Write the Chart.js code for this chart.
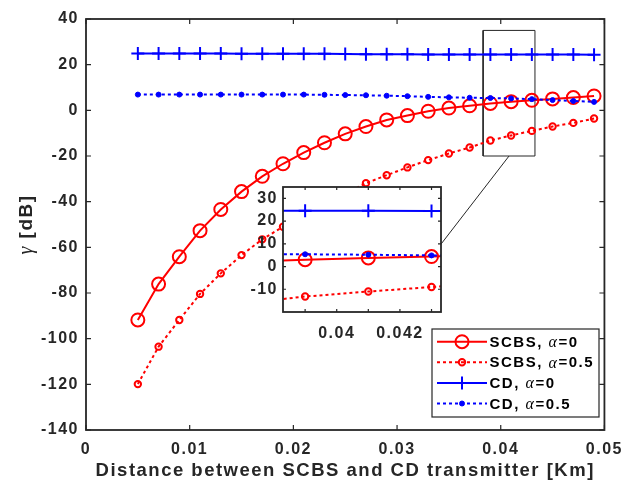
<!DOCTYPE html>
<html>
<head>
<meta charset="utf-8">
<script src="https://cdn.jsdelivr.net/npm/chart.js@4.4.0/dist/chart.umd.min.js"></script>
<style>
  html, body { margin: 0; padding: 0; background: #fff; }
  #wrap { position: relative; width: 630px; height: 484px; }
  #main { position: absolute; left: 0; top: 0; }
  #inset { position: absolute; left: 230px; top: 170px; }
</style>
</head>
<body>
<div id="wrap">
  <canvas id="main" width="630" height="484"></canvas>
  <canvas id="inset" width="220" height="180"></canvas>
</div>
<script>
// distance between SCBS and CD transmitter [Km]
const distance = [0.005, 0.007, 0.009, 0.011, 0.013, 0.015, 0.017, 0.019, 0.021, 0.023, 0.025, 0.027,
                  0.029, 0.031, 0.033, 0.035, 0.037, 0.039, 0.041, 0.043, 0.045, 0.047, 0.049];

// gamma [dB]
const scbsA0  = [-91.8, -76.1, -64.1, -52.7, -43.4, -35.6, -28.9, -23.4, -18.5, -14.2, -10.3, -7.1,
                 -4.2, -2.3, -0.4, 1.0, 2.0, 3.0, 3.8, 4.4, 5.0, 5.6, 6.3];
const scbsA05 = [-119.9, -103.5, -91.8, -80.4, -71.4, -63.4, -56.5, -51.0, -46.0, -41.2, -36.5, -31.9,
                 -28.4, -25.0, -21.8, -18.9, -16.3, -13.2, -11.0, -9.0, -7.1, -5.5, -3.6];
const cdA0    = [24.9, 24.9, 24.9, 24.9, 24.9, 24.8, 24.8, 24.8, 24.8, 24.8, 24.7, 24.6,
                 24.6, 24.6, 24.5, 24.5, 24.5, 24.5, 24.5, 24.4, 24.4, 24.4, 24.3];
const cdA05   = [6.9, 6.9, 6.9, 6.9, 6.9, 6.9, 6.9, 6.9, 6.9, 6.8, 6.7, 6.6,
                 6.4, 6.2, 5.9, 5.7, 5.5, 5.4, 5.2, 4.9, 4.5, 4.1, 3.7];

const labels = ['SCBS, \u03b1=0', 'SCBS, \u03b1=0.5', 'CD, \u03b1=0', 'CD, \u03b1=0.5'];

const xTicks = [0, 0.01, 0.02, 0.03, 0.04, 0.05];
const yTicks = [-140, -120, -100, -80, -60, -40, -20, 0, 20, 40];

// zoomed window
const zoomX = [0.0383, 0.0433];
const zoomY = [-20, 35];
const insetXTicks = [0.039, 0.04, 0.041, 0.042, 0.043];
const insetXLabels = [0.04, 0.042];
const insetYTicks = [-10, 0, 10, 20, 30];
// connector from zoom box to inset
const connX = [0.0408, 0.0340];
const connY = [-20, -60];

const AX = '#262626';
const SANS = '"Liberation Sans", Arial, sans-serif';
const SERIF = '"Liberation Serif", "Times New Roman", serif';

const pts = (ys) => distance.map((x, i) => ({ x: x, y: ys[i] }));
const fmt = (v) => String(Number(v.toFixed(4)));

function seriesSets() {
  return [
    { label: labels[3], data: pts(cdA05), borderColor: '#0000ff', borderWidth: 2, borderDash: [3, 3],
      pointStyle: 'circle', pointRadius: 2.5, pointBackgroundColor: '#0000ff', pointBorderColor: '#0000ff', pointBorderWidth: 1 },
    { label: labels[2], data: pts(cdA0), borderColor: '#0000ff', borderWidth: 2,
      pointStyle: 'cross', pointRadius: 6.5, pointBorderColor: '#0000ff', pointBorderWidth: 2 },
    { label: labels[1], data: pts(scbsA05), borderColor: '#ff0000', borderWidth: 2, borderDash: [3, 3],
      pointStyle: 'circle', pointRadius: 3.2, pointBackgroundColor: 'rgba(0,0,0,0)', pointBorderColor: '#ff0000', pointBorderWidth: 2 },
    { label: labels[0], data: pts(scbsA0), borderColor: '#ff0000', borderWidth: 2,
      pointStyle: 'circle', pointRadius: 6.5, pointBackgroundColor: 'rgba(0,0,0,0)', pointBorderColor: '#ff0000', pointBorderWidth: 2 }
  ];
}

function drawFrame(chart, tickLen) {
  const { ctx, chartArea: a, scales } = chart;
  ctx.save();
  ctx.strokeStyle = AX;
  ctx.lineWidth = 1.8;
  ctx.strokeRect(a.left, a.top, a.right - a.left, a.bottom - a.top);
  ctx.lineWidth = 1.2;
  ctx.beginPath();
  scales.x.ticks.forEach(t => {
    const px = scales.x.getPixelForValue(t.value);
    ctx.moveTo(px, a.bottom); ctx.lineTo(px, a.bottom - tickLen);
    ctx.moveTo(px, a.top); ctx.lineTo(px, a.top + tickLen);
  });
  scales.y.ticks.forEach(t => {
    const py = scales.y.getPixelForValue(t.value);
    ctx.moveTo(a.left, py); ctx.lineTo(a.left + tickLen, py);
    ctx.moveTo(a.right, py); ctx.lineTo(a.right - tickLen, py);
  });
  ctx.stroke();
  ctx.restore();
}

function drawMarker(ctx, ds, x, y) {
  ctx.save();
  ctx.setLineDash([]);
  ctx.strokeStyle = ds.pointBorderColor;
  ctx.lineWidth = ds.pointBorderWidth;
  ctx.beginPath();
  if (ds.pointStyle === 'cross') {
    ctx.moveTo(x - ds.pointRadius, y); ctx.lineTo(x + ds.pointRadius, y);
    ctx.moveTo(x, y - ds.pointRadius); ctx.lineTo(x, y + ds.pointRadius);
    ctx.stroke();
  } else {
    ctx.arc(x, y, ds.pointRadius, 0, Math.PI * 2);
    ctx.fillStyle = ds.pointBackgroundColor;
    ctx.fill();
    ctx.stroke();
  }
  ctx.restore();
}

// text with an italic serif alpha / gamma
function richText(ctx, parts, x, y) {
  let tx = x;
  parts.forEach(p => {
    ctx.font = p.font;
    ctx.fillText(p.text, tx, y);
    tx += ctx.measureText(p.text).width;
  });
}

const legendBox = { left: 432, top: 329, width: 167, height: 88, rowH: 20.6 };

function drawLegend(chart) {
  const ctx = chart.ctx;
  const sets = chart.data.datasets;
  const order = [3, 2, 1, 0];
  const b = legendBox;
  ctx.save();
  ctx.fillStyle = '#fff';
  ctx.fillRect(b.left, b.top, b.width, b.height);
  ctx.strokeStyle = AX;
  ctx.lineWidth = 1.2;
  ctx.strokeRect(b.left, b.top, b.width, b.height);
  order.forEach((idx, r) => {
    const ds = sets[idx];
    const y = b.top + 12.7 + r * b.rowH;
    const x0 = b.left + 5, x1 = b.left + 55;
    ctx.strokeStyle = ds.borderColor;
    ctx.lineWidth = ds.borderWidth;
    ctx.setLineDash(ds.borderDash || []);
    ctx.beginPath(); ctx.moveTo(x0, y); ctx.lineTo(x1, y); ctx.stroke();
    drawMarker(ctx, ds, (x0 + x1) / 2, y);
    const parts = ds.label.split('\u03b1');
    ctx.fillStyle = '#000';
    ctx.textBaseline = 'middle';
    ctx.textAlign = 'left';
    richText(ctx, [
      { text: parts[0], font: 'bold 15px ' + SANS },
      { text: '\u03b1', font: 'italic 16px ' + SERIF },
      { text: parts[1], font: 'bold 15px ' + SANS }
    ], b.left + 57.5, y + 1);
  });
  ctx.restore();
}

function drawYTitle(chart) {
  const { ctx, chartArea: a } = chart;
  const parts = [
    { text: '\u03b3', font: 'italic 20px ' + SERIF },
    { text: ' [dB]', font: 'bold 19px ' + SANS }
  ];
  ctx.save();
  let w = 0;
  parts.forEach(p => { ctx.font = p.font; w += ctx.measureText(p.text).width; });
  ctx.translate(27, (a.top + a.bottom) / 2);
  ctx.rotate(-Math.PI / 2);
  ctx.fillStyle = AX;
  ctx.textBaseline = 'middle';
  ctx.textAlign = 'left';
  richText(ctx, parts, -w / 2, 0);
  ctx.restore();
}

const spacing = {
  id: 'spacing',
  beforeDraw(chart) { chart.ctx.letterSpacing = '1.5px'; }
};

const mainPlugin = {
  id: 'mainFrame',
  afterDraw(chart) {
    drawFrame(chart, 5);
    drawLegend(chart);
    drawYTitle(chart);
  }
};

const mainSets = seriesSets().concat([
  { label: 'zoom', data: [
      { x: zoomX[0], y: zoomY[0] }, { x: zoomX[1], y: zoomY[0] }, { x: zoomX[1], y: zoomY[1] },
      { x: zoomX[0], y: zoomY[1] }, { x: zoomX[0], y: zoomY[0] }],
    borderColor: AX, borderWidth: 1, pointRadius: 0 },
  { label: 'connector', data: [{ x: connX[0], y: connY[0] }, { x: connX[1], y: connY[1] }],
    borderColor: AX, borderWidth: 1, pointRadius: 0 }
]);

const tickFont = { family: SANS, size: 16, weight: 'bold' };

new Chart(document.getElementById('main'), {
  type: 'line',
  data: { datasets: mainSets },
  options: {
    responsive: false,
    animation: false,
    layout: { padding: { left: 0, right: 22, top: 19, bottom: 0 } },
    plugins: { legend: { display: false }, tooltip: { enabled: false } },
    elements: { line: { tension: 0 } },
    scales: {
      x: {
        type: 'linear', min: 0, max: 0.05,
        afterFit(s) { s.height = 54; },
        afterBuildTicks(s) { s.ticks = xTicks.map(v => ({ value: v })); },
        grid: { display: false, drawTicks: false }, border: { display: false },
        ticks: { padding: 10, color: AX, font: tickFont, callback: fmt, maxRotation: 0 },
        title: { display: true, text: 'Distance between SCBS and CD transmitter [Km]', color: AX,
                 font: { family: SANS, size: 18.5, weight: 'bold' }, padding: { top: 0, bottom: 2 } }
      },
      y: {
        type: 'linear', min: -140, max: 40,
        afterFit(s) { s.width = 86; },
        afterBuildTicks(s) { s.ticks = yTicks.map(v => ({ value: v })); },
        grid: { display: false, drawTicks: false }, border: { display: false },
        ticks: { padding: 7, color: AX, font: tickFont }
      }
    }
  },
  plugins: [spacing, mainPlugin]
});

const insetPlugin = {
  id: 'insetFrame',
  beforeDatasetsDraw(chart) {
    const { ctx, chartArea: a } = chart;
    ctx.save();
    ctx.fillStyle = '#fff';
    ctx.fillRect(a.left, a.top, a.right - a.left, a.bottom - a.top);
    ctx.restore();
  },
  afterDraw(chart) { drawFrame(chart, 3); }
};

new Chart(document.getElementById('inset'), {
  type: 'line',
  data: { datasets: seriesSets() },
  options: {
    responsive: false,
    animation: false,
    layout: { padding: { left: 0, right: 9, top: 17, bottom: 0 } },
    plugins: { legend: { display: false }, tooltip: { enabled: false } },
    elements: { line: { tension: 0 } },
    scales: {
      x: {
        type: 'linear', min: zoomX[0], max: zoomX[1],
        afterFit(s) { s.height = 38; },
        afterBuildTicks(s) { s.ticks = insetXTicks.map(v => ({ value: v })); },
        grid: { display: false, drawTicks: false }, border: { display: false },
        ticks: { padding: 12, color: AX, autoSkip: false, maxRotation: 0, font: tickFont,
                 callback: (v) => insetXLabels.some(l => Math.abs(l - v) < 1e-9) ? fmt(v) : '' }
      },
      y: {
        type: 'linear', min: zoomY[0], max: zoomY[1],
        afterFit(s) { s.width = 53; },
        afterBuildTicks(s) { s.ticks = insetYTicks.map(v => ({ value: v })); },
        grid: { display: false, drawTicks: false }, border: { display: false },
        ticks: { padding: 5, color: AX, font: tickFont }
      }
    }
  },
  plugins: [spacing, insetPlugin]
});
</script>
</body>
</html>
